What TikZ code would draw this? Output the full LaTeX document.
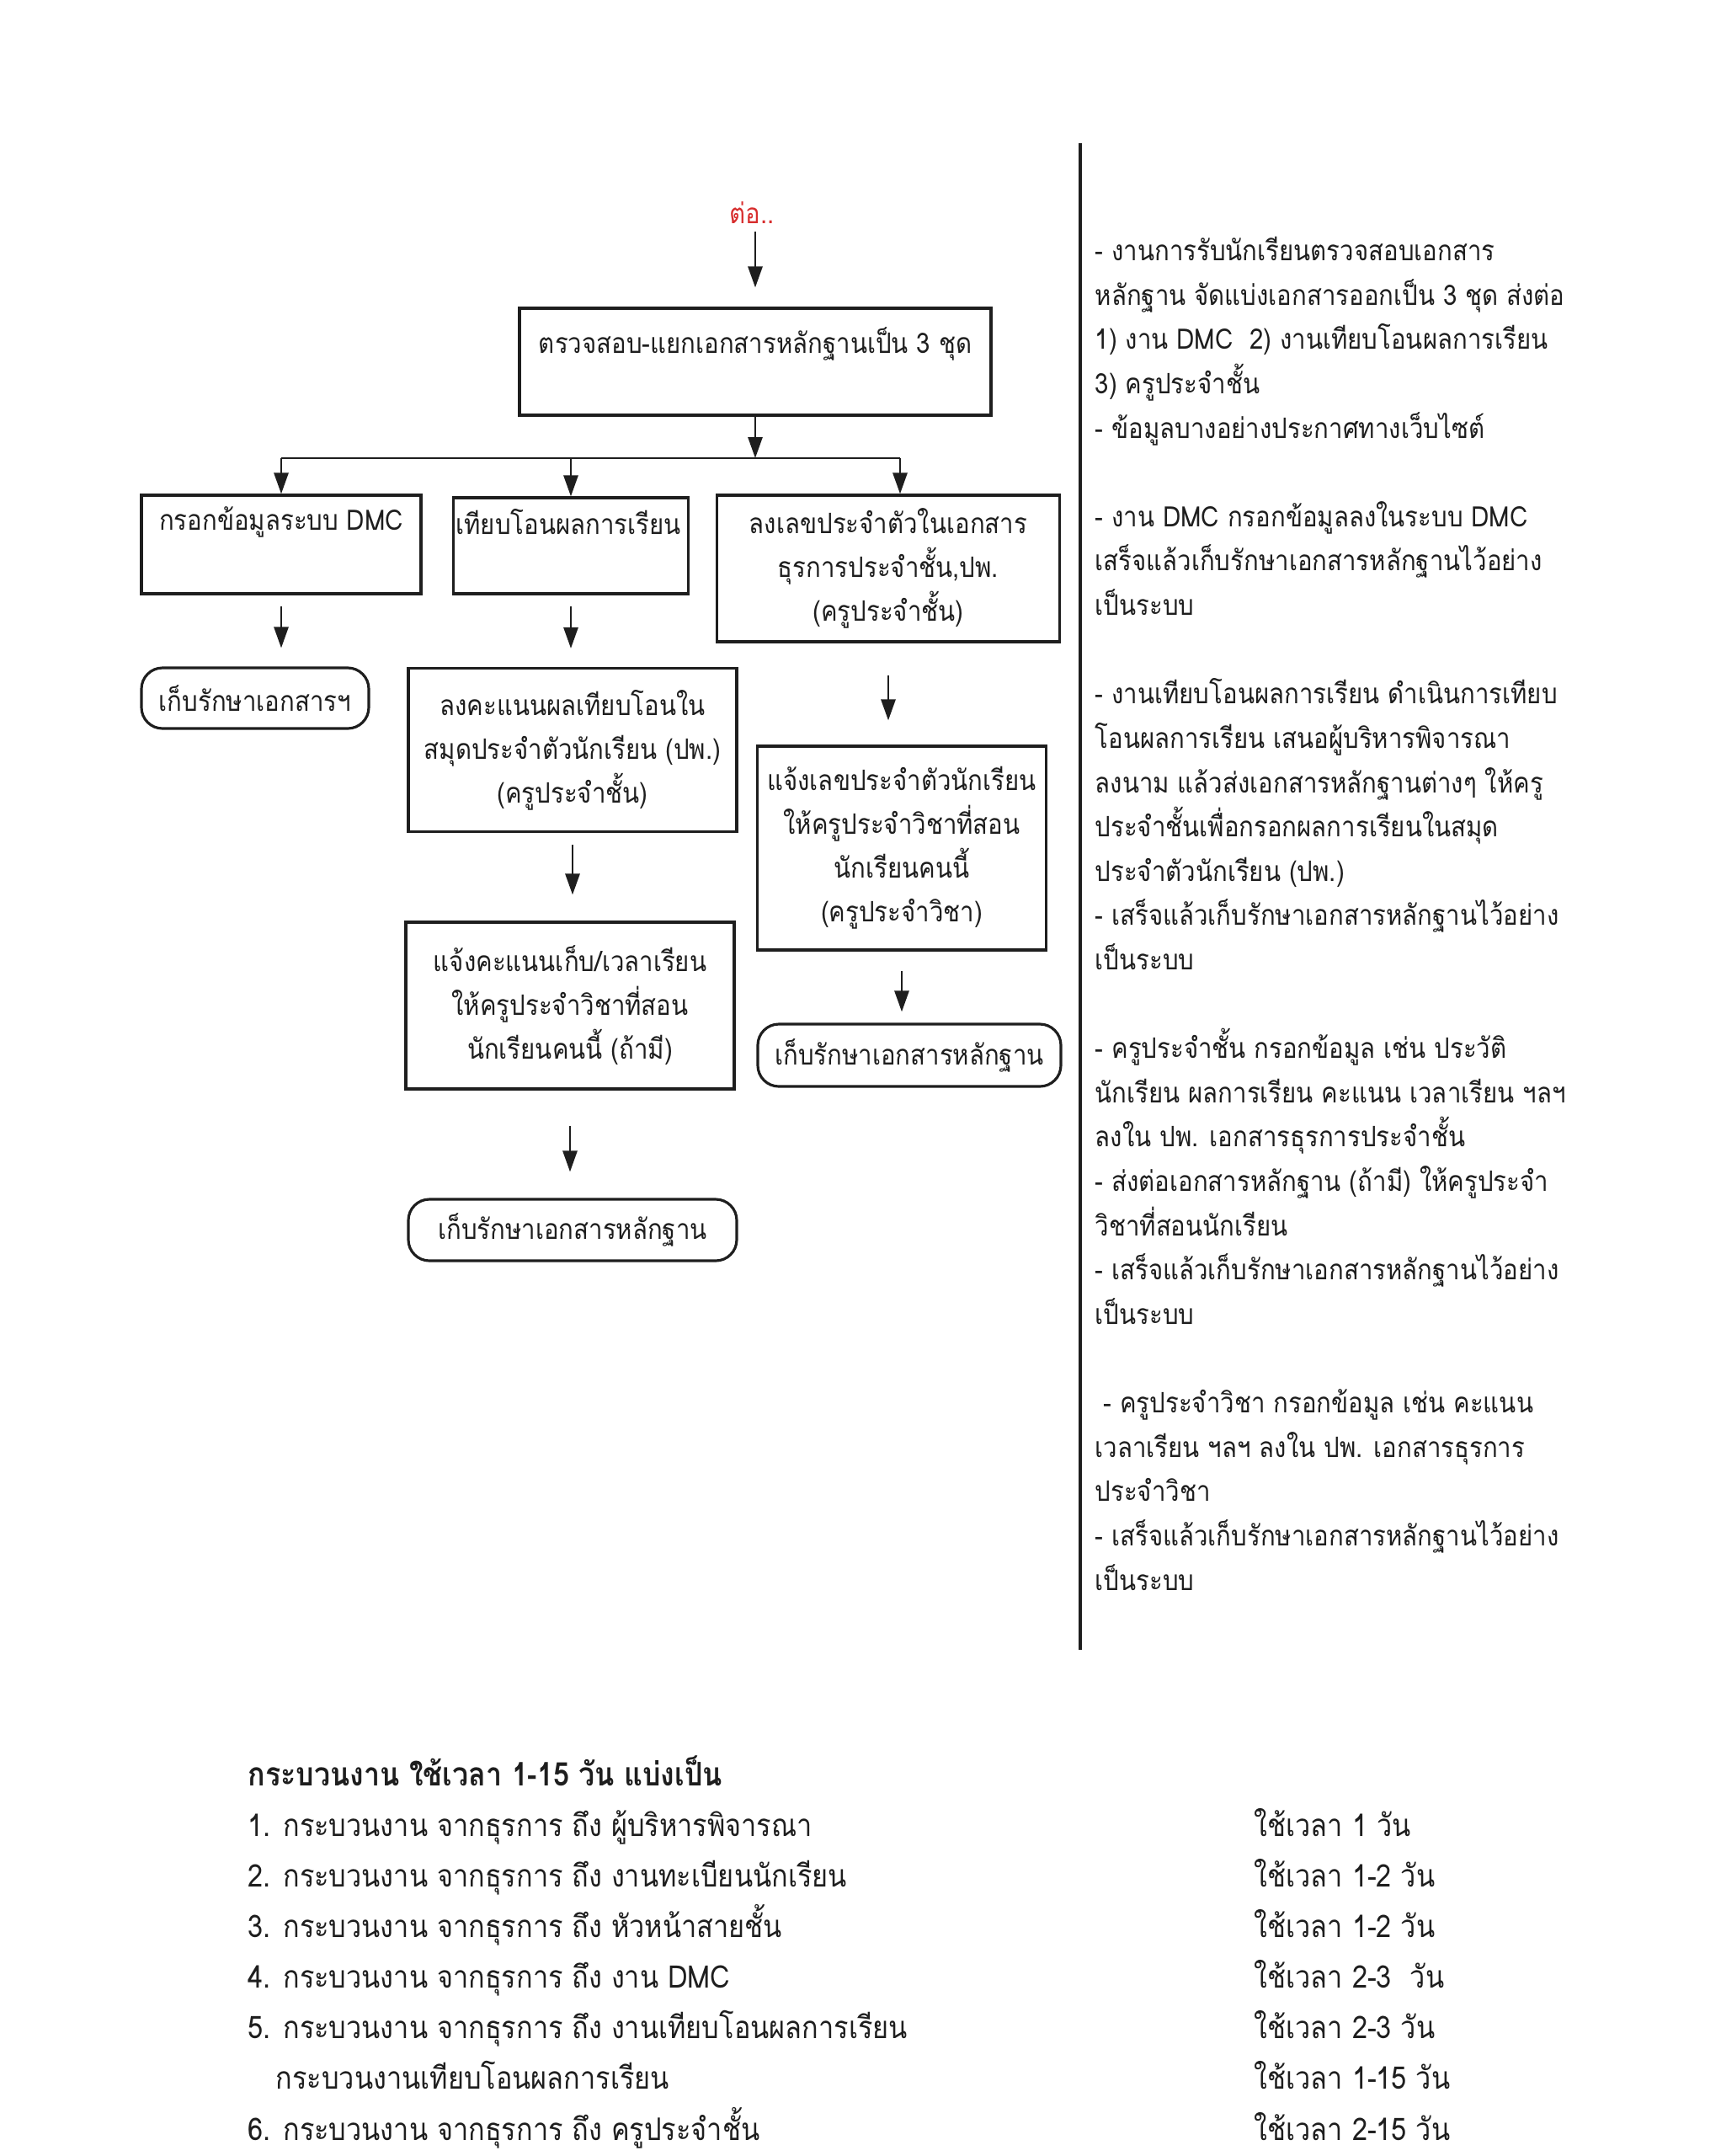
\documentclass[tikz,border=0pt]{standalone}
\usepackage{fontspec}
\newfontfamily\thaifont[Script=Thai, FakeStretch=0.88]{Loma}
\usetikzlibrary{arrows.meta,positioning}
\definecolor{contred}{RGB}{215,45,45}
\definecolor{ink}{RGB}{30,30,30}

\begin{document}
\begin{tikzpicture}[
  box/.style={draw=ink, line width=0.9pt, rectangle, inner sep=0pt},
  rbox/.style={box, rounded corners=2.5mm},
  lbl/.style={font=\thaifont\fontsize{9.5}{14.8}\selectfont, text=ink, align=center, inner sep=0pt},
  note/.style={font=\thaifont\fontsize{9.5}{14.9}\selectfont, text=ink, anchor=mid west, inner sep=0pt},
  item/.style={font=\thaifont\fontsize{10.5}{17}\selectfont, text=ink, anchor=mid west, inner sep=0pt},
  arr/.style={draw=ink, line width=0.8pt, -{Triangle[length=2.5mm,width=1.7mm]}}
]
  \useasboundingbox (0,0) rectangle (20.44,-25.60);
  \newcommand{\stepdown}[4]{%
    \draw[arr, shorten <=#3, shorten >=#4] (#1.south) -- (#1.south |- #2.north);
  }

  % flow chart
  \node[lbl, text=contred] (cont) at (8.93,-2.53) {ต่อ..};
  \node[box, minimum width=5.60cm, minimum height=1.27cm] (chk) at (8.97,-4.295) {};
  \node[lbl] (chkT) at (8.97,-4.08) {ตรวจสอบ-แยกเอกสารหลักฐานเป็น 3 ชุด};
  \draw[arr, shorten <=0.08cm, shorten >=0.23cm] (cont.south -| chk.north) -- (chk.north);

  \node[box, minimum width=3.32cm, minimum height=1.17cm] (dmc) at (3.34,-6.465) {};
  \node[lbl] (dmcT) at (3.34,-6.20) {กรอกข้อมูลระบบ DMC};
  \node[box, minimum width=2.79cm, minimum height=1.14cm] (cmp) at (6.78,-6.48) {};
  \node[lbl] (cmpT) at (6.75,-6.20) {เทียบโอนผลการเรียน};
  \node[box, lbl, minimum width=4.07cm, minimum height=1.74cm] (reg) at (10.55,-6.75)
    {ลงเลขประจำตัวในเอกสาร\\ธุรการประจำชั้น,ปพ.\\(ครูประจำชั้น)};

  \coordinate (split) at (8.97,-5.44);
  \draw[arr] (chk.south) -- (split);
  \draw[ink, line width=0.8pt] (split -| dmc.north) -- ([xshift=0.14cm]split -| reg.north);
  \draw[arr] (split -| dmc.north) -- (dmc.north);
  \draw[arr] (split -| cmp.north) -- (cmp.north);
  \draw[arr] ([xshift=0.14cm]split -| reg.north) -- ([xshift=0.14cm]reg.north);

  \node[rbox, lbl, minimum width=2.70cm, minimum height=0.72cm] (keepA) at (3.03,-8.29) {เก็บรักษาเอกสารฯ};
  \node[box, lbl, minimum width=3.90cm, minimum height=1.94cm] (pp) at (6.80,-8.905)
    {ลงคะแนนผลเทียบโอนใน\\สมุดประจำตัวนักเรียน (ปพ.)\\(ครูประจำชั้น)};
  \node[box, lbl, minimum width=3.43cm, minimum height=2.42cm] (notify) at (10.71,-10.07)
    {แจ้งเลขประจำตัวนักเรียน\\ให้ครูประจำวิชาที่สอน\\นักเรียนคนนี้\\(ครูประจำวิชา)};
  \node[box, lbl, minimum width=3.90cm, minimum height=1.98cm] (score) at (6.77,-11.94)
    {แจ้งคะแนนเก็บ/เวลาเรียน\\ให้ครูประจำวิชาที่สอน\\นักเรียนคนนี้ (ถ้ามี)};
  \node[rbox, lbl, minimum width=3.60cm, minimum height=0.74cm] (keepC) at (10.80,-12.53) {เก็บรักษาเอกสารหลักฐาน};
  \node[rbox, lbl, minimum width=3.90cm, minimum height=0.73cm] (keepB) at (6.80,-14.605) {เก็บรักษาเอกสารหลักฐาน};

  \stepdown{dmc}{keepA}{0.13cm}{0.22cm}
  \stepdown{cmp}{pp}{0.13cm}{0.22cm}
  \stepdown{reg}{notify}{0.38cm}{0.29cm}
  \stepdown{pp}{score}{0.14cm}{0.31cm}
  \stepdown{notify}{keepC}{0.23cm}{0.13cm}
  \stepdown{score}{keepB}{0.42cm}{0.31cm}

  % divider and notes
  \draw[ink, line width=0.9pt] (12.83,-1.70) -- (12.83,-19.59);
  \foreach \i/\t in {
    0/{- งานการรับนักเรียนตรวจสอบเอกสาร},
    1/{หลักฐาน จัดแบ่งเอกสารออกเป็น 3 ชุด ส่งต่อ},
    2/{1) งาน DMC\ \ 2) งานเทียบโอนผลการเรียน},
    3/{3) ครูประจำชั้น},
    4/{- ข้อมูลบางอย่างประกาศทางเว็บไซต์},
    6/{- งาน DMC กรอกข้อมูลลงในระบบ DMC},
    7/{เสร็จแล้วเก็บรักษาเอกสารหลักฐานไว้อย่าง},
    8/{เป็นระบบ},
    10/{- งานเทียบโอนผลการเรียน ดำเนินการเทียบ},
    11/{โอนผลการเรียน เสนอผู้บริหารพิจารณา},
    12/{ลงนาม แล้วส่งเอกสารหลักฐานต่างๆ ให้ครู},
    13/{ประจำชั้นเพื่อกรอกผลการเรียนในสมุด},
    14/{ประจำตัวนักเรียน (ปพ.)},
    15/{- เสร็จแล้วเก็บรักษาเอกสารหลักฐานไว้อย่าง},
    16/{เป็นระบบ},
    18/{- ครูประจำชั้น กรอกข้อมูล เช่น ประวัติ},
    19/{นักเรียน ผลการเรียน คะแนน เวลาเรียน ฯลฯ},
    20/{ลงใน ปพ. เอกสารธุรการประจำชั้น},
    21/{- ส่งต่อเอกสารหลักฐาน (ถ้ามี) ให้ครูประจำ},
    22/{วิชาที่สอนนักเรียน},
    23/{- เสร็จแล้วเก็บรักษาเอกสารหลักฐานไว้อย่าง},
    24/{เป็นระบบ},
    26/{~- ครูประจำวิชา กรอกข้อมูล เช่น คะแนน},
    27/{เวลาเรียน ฯลฯ ลงใน ปพ. เอกสารธุรการ},
    28/{ประจำวิชา},
    29/{- เสร็จแล้วเก็บรักษาเอกสารหลักฐานไว้อย่าง},
    30/{เป็นระบบ}}
    \node[note] (note\i) at (13.00,{-3.020-0.5262*\i}) {\t};

  % time table
  \node[item, font=\thaifont\bfseries\fontsize{11}{17}\selectfont] (head) at (2.94,-21.126)
    {กระบวนงาน ใช้เวลา 1-15 วัน แบ่งเป็น};
  \foreach \j/\x/\t/\d in {
    1/2.94/{1. กระบวนงาน จากธุรการ ถึง ผู้บริหารพิจารณา}/{ใช้เวลา 1 วัน},
    2/2.94/{2. กระบวนงาน จากธุรการ ถึง งานทะเบียนนักเรียน}/{ใช้เวลา 1-2 วัน},
    3/2.94/{3. กระบวนงาน จากธุรการ ถึง หัวหน้าสายชั้น}/{ใช้เวลา 1-2 วัน},
    4/2.94/{4. กระบวนงาน จากธุรการ ถึง งาน DMC}/{ใช้เวลา 2-3\ \ วัน},
    5/2.94/{5. กระบวนงาน จากธุรการ ถึง งานเทียบโอนผลการเรียน}/{ใช้เวลา 2-3 วัน},
    6/3.27/{กระบวนงานเทียบโอนผลการเรียน}/{ใช้เวลา 1-15 วัน},
    7/2.94/{6. กระบวนงาน จากธุรการ ถึง ครูประจำชั้น}/{ใช้เวลา 2-15 วัน}}
  {
    \node[item] (step\j) at (\x,{-21.126-0.6013*\j}) {\t};
    \node[item] (time\j) at (14.89,{-21.126-0.6013*\j}) {\d};
  }
\end{tikzpicture}
\end{document}
